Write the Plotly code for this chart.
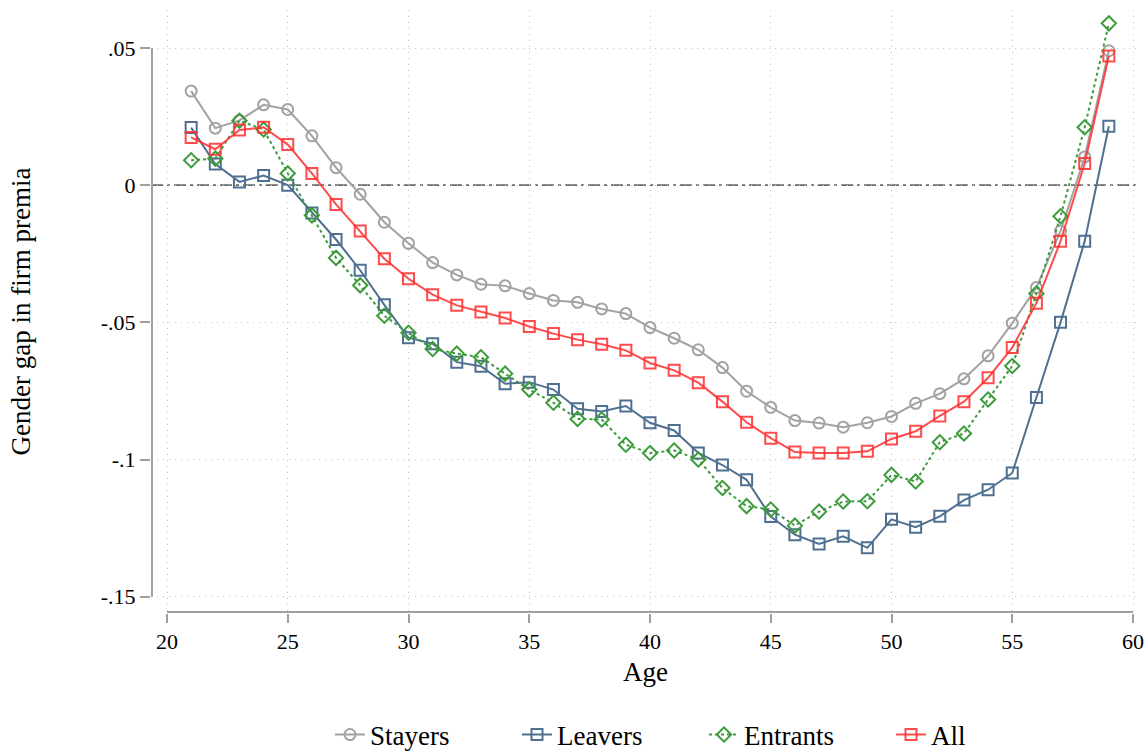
import plotly.graph_objects as go

age = list(range(21, 60))

stayers = [0.0343, 0.0208, 0.0236, 0.0293, 0.0276, 0.0180, 0.0064, -0.0033, -0.0135, -0.0212,
           -0.0282, -0.0327, -0.0361, -0.0367, -0.0395, -0.0420, -0.0427, -0.0451, -0.0468, -0.0519,
           -0.0558, -0.0600, -0.0665, -0.0751, -0.0810, -0.0858, -0.0867, -0.0882, -0.0866, -0.0843,
           -0.0795, -0.0760, -0.0706, -0.0622, -0.0503, -0.0373, -0.0167, 0.0103, 0.0490]

leavers = [0.0210, 0.0077, 0.0012, 0.0035, 0.0000, -0.0101, -0.0198, -0.0310, -0.0436, -0.0556,
           -0.0578, -0.0645, -0.0660, -0.0724, -0.0718, -0.0745, -0.0815, -0.0825, -0.0805, -0.0866,
           -0.0894, -0.0976, -0.1020, -0.1074, -0.1208, -0.1274, -0.1308, -0.1280, -0.1322, -0.1218,
           -0.1247, -0.1207, -0.1148, -0.1110, -0.1049, -0.0774, -0.0500, -0.0204, 0.0215]

entrants = [0.0091, 0.0097, 0.0235, 0.0203, 0.0043, -0.0110, -0.0265, -0.0365, -0.0476, -0.0538,
            -0.0597, -0.0614, -0.0627, -0.0687, -0.0745, -0.0793, -0.0852, -0.0854, -0.0946, -0.0976,
            -0.0967, -0.1000, -0.1104, -0.1170, -0.1182, -0.1241, -0.1190, -0.1153, -0.1152, -0.1056,
            -0.1080, -0.0937, -0.0905, -0.0781, -0.0659, -0.0395, -0.0113, 0.0211, 0.0590]

all_ = [0.0174, 0.0131, 0.0201, 0.0211, 0.0148, 0.0043, -0.0070, -0.0167, -0.0268, -0.0341,
        -0.0399, -0.0438, -0.0462, -0.0484, -0.0515, -0.0541, -0.0563, -0.0580, -0.0602, -0.0648,
        -0.0675, -0.0720, -0.0789, -0.0864, -0.0922, -0.0973, -0.0976, -0.0976, -0.0970, -0.0925,
        -0.0897, -0.0841, -0.0789, -0.0702, -0.0592, -0.0430, -0.0204, 0.0079, 0.0471]

y_tickvals = [0.05, 0, -0.05, -0.1, -0.15]
y_ticktext = [".05", "0", "-.05", "-.1", "-.15"]
x_tickvals = [20, 25, 30, 35, 40, 45, 50, 55, 60]

FONT = "Liberation Serif"
AXC = "#a0a0a0"
GRID = "#c4c4c4"

series = [
    ("Stayers", stayers, "#a2a2a2", "solid", "circle-open"),
    ("Leavers", leavers, "#4f7090", "solid", "square-open"),
    ("Entrants", entrants, "#3c9c3c", "dot", "diamond-open"),
    ("All", all_, "rgba(255,50,50,0.88)", "solid", "square-open"),
]

fig = go.Figure()
for name, vals, col, dash, sym in series:
    fig.add_trace(go.Scatter(
        x=age, y=vals, name=name, mode="lines+markers",
        line=dict(color=col, width=2, dash=dash),
        marker=dict(symbol=sym, size=11, color=col, line=dict(width=2, color=col)),
    ))

# zero reference line
fig.add_shape(type="line", xref="paper", yref="y", x0=0, x1=1, y0=0, y1=0,
              line=dict(color="#6a6a6a", width=1.8, dash="12px,4px,3px,4px"), layer="below")
# Stata-style detached axis lines
fig.add_shape(type="line", xref="paper", yref="y", x0=0.001, x1=0.001, y0=-0.15, y1=0.05,
              line=dict(color=AXC, width=2))
fig.add_shape(type="line", xref="x", yref="paper", x0=20, x1=60, y0=0.0015, y1=0.0015,
              line=dict(color=AXC, width=2))

fig.update_layout(
    width=1145, height=754,
    margin=dict(l=151, r=5, t=10, b=141, autoexpand=False),
    paper_bgcolor="white", plot_bgcolor="white",
    font=dict(family=FONT, color="black", size=22),
    showlegend=True,
    legend=dict(orientation="h", xref="container", yref="container",
                x=330 / 1145, xanchor="left", y=(754 - 735) / 754, yanchor="middle",
                font=dict(size=27, family=FONT), entrywidth=142, entrywidthmode="pixels"),
    xaxis=dict(
        range=[20 - 16 / 24.15, 60 + 7 / 24.15],
        tickvals=x_tickvals, ticks="outside", ticklen=9, tickwidth=1.5, tickcolor=AXC,
        showgrid=True, gridcolor=GRID, griddash="1px,5px", gridwidth=1,
        zeroline=False, showline=False, automargin=False,
        tickfont=dict(size=22, family=FONT),
        title=dict(text="Age", font=dict(size=27, family=FONT), standoff=8),
    ),
    yaxis=dict(
        range=[-0.15 - 16.3 / 2741.5, 0.05 + 38 / 2741.5],
        tickvals=y_tickvals, ticktext=y_ticktext, ticks="outside", ticklen=10, tickwidth=1.5,
        tickcolor=AXC,
        showgrid=True, gridcolor=GRID, griddash="1px,5px", gridwidth=1,
        zeroline=False, showline=False, automargin=False,
        tickfont=dict(size=22, family=FONT),
        title=dict(text="Gender gap in firm premia", font=dict(size=27, family=FONT), standoff=62),
    ),
)

fig.write_html("out.html")
